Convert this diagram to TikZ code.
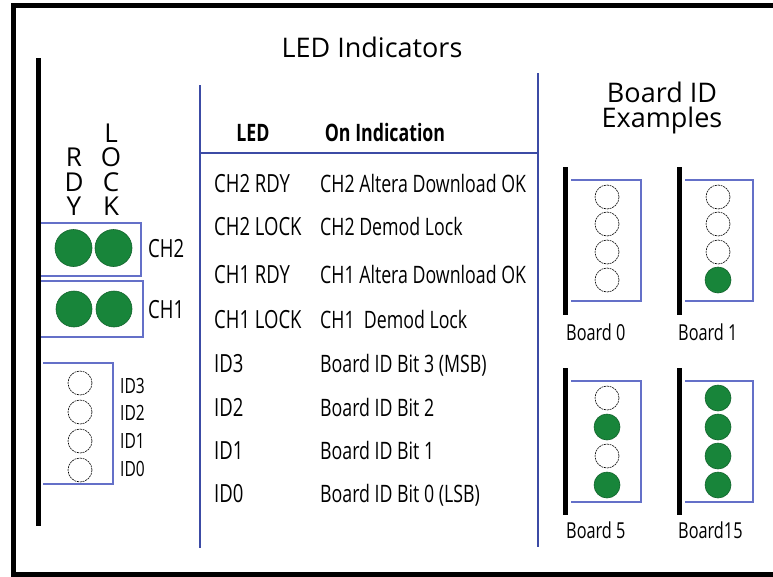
\documentclass[tikz,border=0pt]{standalone}
\usepackage{fontspec}
\setmainfont{Open Sans}
\newfontfamily\condf[FakeStretch=0.74]{Open Sans}
\definecolor{tblue}{RGB}{60,75,165}
\definecolor{bblue}{RGB}{100,112,200}
\definecolor{ledgreen}{RGB}{24,133,58}
\begin{document}
\begin{tikzpicture}[x=1pt,y=-1pt,
  frame/.style={line width=5pt,black,line join=miter},
  blackbar/.style={line width=5pt,black},
  tline/.style={draw=tblue,line width=2.5pt},
  ledbox/.style={draw=bblue,line width=1.3pt},
  ledon/.style={circle,fill=ledgreen,draw=ledgreen!75!black,line width=0.6pt,inner sep=0pt,minimum size=#1},
  ledoff/.style={circle,draw=black,line width=0.6pt,dash pattern=on 2pt off 0.8pt,fill=white,inner sep=0pt,minimum size=#1},
  bigtxt/.style={anchor=base,inner sep=0pt,font=\fontsize{27}{32}\selectfont},
  lettxt/.style={anchor=base,inner sep=0pt,font=\fontsize{26}{30}\selectfont},
  tabtxt/.style={anchor=base west,inner sep=0pt,font=\condf\fontsize{25}{30}\selectfont},
  tabtxtb/.style={anchor=base west,inner sep=0pt,font=\condf\fontsize{24}{30}\selectfont},
  hdrtxt/.style={anchor=base,inner sep=0pt,font=\condf\bfseries\fontsize{24}{30}\selectfont},
  lbltxt/.style={anchor=base west,inner sep=0pt,font=\condf\fontsize{25}{30}\selectfont},
  idtxt/.style={anchor=base west,inner sep=0pt,font=\condf\fontsize{21}{26}\selectfont},
  brdtxt/.style={anchor=base west,inner sep=0pt,font=\condf\fontsize{22}{26}\selectfont}]
\useasboundingbox (0,0) rectangle (773,576);
\fill[white] (0,0) rectangle (773,576);
% outer frame
\draw[frame] (780,5) -- (13,5) -- (13,574) -- (780,574);
% titles
\node[bigtxt] (title) at (372,57) {LED Indicators};
\node[anchor=north,inner sep=0pt,align=center,font=\fontsize{27}{25}\selectfont] (bid) at (662,82) {Board ID\\Examples};
% RDY / LOCK labels
\node[lettxt] (lL) at (111,142) {L};
\node[lettxt] (lO) at (111,166) {O};
\node[lettxt] (lC) at (111,191) {C};
\node[lettxt] (lK) at (111,215) {K};
\node[lettxt] (lR) at (74,166) {R};
\node[lettxt] (lD) at (74,191) {D};
\node[lettxt] (lY) at (74,215) {Y};
% CH boxes
\draw[ledbox] (40,223) rectangle (141,276);
\draw[ledbox] (40,281) rectangle (143,337);
\node[ledon=37pt] (ch2r) at (73.5,248) {};
\node[ledon=37pt] (ch2l) at (113.5,248) {};
\node[ledon=36pt] (ch1r) at (74,309) {};
\node[ledon=36pt] (ch1l) at (114,309) {};
\node[lbltxt] (ch2t) at (148,257) {CH2};
\node[lbltxt] (ch1t) at (148,318) {CH1};
% ID box
\draw[ledbox] (43,363) -- (113,363) -- (113,484) -- (43,484);
\node[ledoff=24pt] (id3) at (80,383) {};
\node[ledoff=24pt] (id2) at (80,412) {};
\node[ledoff=24pt] (id1) at (80,441) {};
\node[ledoff=24pt] (id0) at (80,470) {};
\node[idtxt] (id3t) at (120,393) {ID3};
\node[idtxt] (id2t) at (120,420) {ID2};
\node[idtxt] (id1t) at (120,448) {ID1};
\node[idtxt] (id0t) at (120,476) {ID0};
% board edge bar
\draw[blackbar] (38.5,58) -- (38.5,526);
% table lines
\draw[tline] (200,85) -- (200,548);
\draw[tline] (538,73) -- (538,547);
\draw[tline] (200,153) -- (538,153);
% table header
\node[hdrtxt] (hled) at (253,141) {LED};
\node[hdrtxt] (hon) at (385,141) {On Indication};
% table rows
\node[tabtxt] (a1) at (214,192) {CH2 RDY};
\node[tabtxtb] (b1) at (320,192) {CH2 Altera Download OK};
\node[tabtxt] (a2) at (214,235) {CH2 LOCK};
\node[tabtxtb] (b2) at (320,235) {CH2 Demod Lock};
\node[tabtxt] (a3) at (214,283) {CH1 RDY};
\node[tabtxtb] (b3) at (320,283) {CH1 Altera Download OK};
\node[tabtxt] (a4) at (214,328) {CH1 LOCK};
\node[tabtxtb] (b4) at (320,328) {CH1\ \ Demod Lock};
\node[tabtxt] (a5) at (214,372) {ID3};
\node[tabtxtb] (b5) at (320,372) {Board ID Bit 3 (MSB)};
\node[tabtxt] (a6) at (214,416) {ID2};
\node[tabtxtb] (b6) at (320,416) {Board ID Bit 2};
\node[tabtxt] (a7) at (214,459) {ID1};
\node[tabtxtb] (b7) at (320,459) {Board ID Bit 1};
\node[tabtxt] (a8) at (214,502) {ID0};
\node[tabtxtb] (b8) at (320,502) {Board ID Bit 0 (LSB)};
% Board 0
\draw[blackbar] (565,167) -- (565,315);
\draw[ledbox] (571,180) -- (641,180) -- (641,301) -- (571,301);
\node[ledoff=24pt] (b0a) at (607,197) {};
\node[ledoff=24pt] (b0b) at (607,224) {};
\node[ledoff=24pt] (b0c) at (607,252) {};
\node[ledoff=24pt] (b0d) at (607,280) {};
\node[brdtxt] (b0t) at (566,340) {Board 0};
% Board 1
\draw[blackbar] (679,167) -- (679,315);
\draw[ledbox] (685,180) -- (753,180) -- (753,301) -- (685,301);
\node[ledoff=24pt] (b1a) at (718,197) {};
\node[ledoff=24pt] (b1b) at (718,224) {};
\node[ledoff=24pt] (b1c) at (718,252) {};
\node[ledon=26pt] (b1d) at (718,280) {};
\node[brdtxt] (b1t) at (678,340) {Board 1};
% Board 5
\draw[blackbar] (565,368) -- (565,515);
\draw[ledbox] (571,381) -- (641,381) -- (641,502) -- (571,502);
\node[ledoff=24pt] (b5a) at (607,398) {};
\node[ledon=26pt] (b5b) at (607,427) {};
\node[ledoff=24pt] (b5c) at (607,456) {};
\node[ledon=26pt] (b5d) at (607,485) {};
\node[brdtxt] (b5t) at (566,538) {Board 5};
% Board 15
\draw[blackbar] (679,368) -- (679,515);
\draw[ledbox] (685,381) -- (753,381) -- (753,502) -- (685,502);
\node[ledon=26pt] (bfa) at (718,398) {};
\node[ledon=26pt] (bfb) at (718,427) {};
\node[ledon=26pt] (bfc) at (718,456) {};
\node[ledon=26pt] (bfd) at (718,485) {};
\node[brdtxt] (bft) at (678,538) {Board15};
\end{tikzpicture}
\end{document}
